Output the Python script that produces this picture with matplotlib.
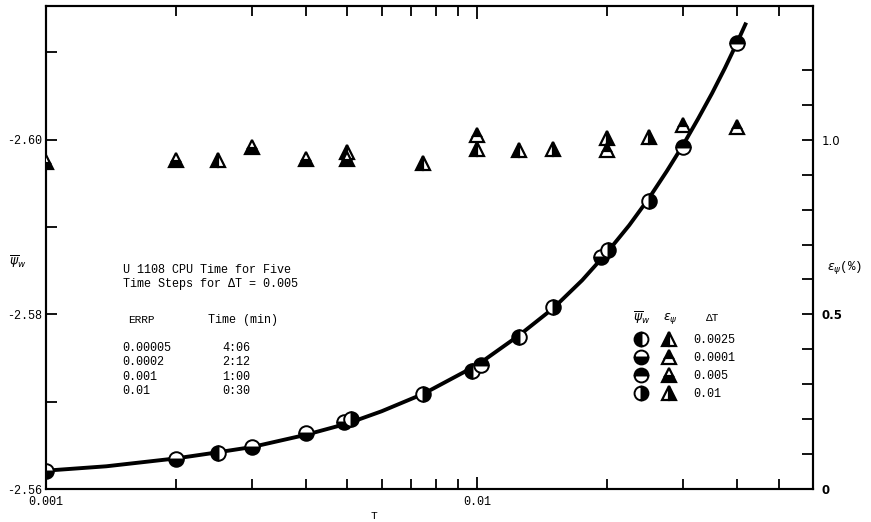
import numpy as np
import matplotlib
matplotlib.use("Agg")
import matplotlib.pyplot as plt
from matplotlib.lines import Line2D
from matplotlib.legend_handler import HandlerTuple
from matplotlib.ticker import FixedLocator, NullFormatter

plt.rcParams['font.family'] = ['Liberation Mono', 'DejaVu Sans']
plt.rcParams['mathtext.fontset'] = 'dejavusans'

# smooth curve through psi_w
curve_T = [0.001, 0.00138, 0.002, 0.0025, 0.003, 0.004, 0.005, 0.006, 0.0075,
           0.01, 0.0125, 0.015, 0.0175, 0.02, 0.0225, 0.025, 0.0275, 0.03,
           0.0325, 0.035, 0.0375, 0.04, 0.042]
curve_psi = [-2.5621, -2.5626, -2.5635, -2.5642, -2.5648, -2.5662, -2.5675, -2.5689, -2.5709,
             -2.5742, -2.5776, -2.5807, -2.5839, -2.5871, -2.5902, -2.5933, -2.5964, -2.5994,
             -2.6024, -2.6053, -2.6082, -2.6111, -2.6134]

# psi_w points (circles, left axis)
psi_T = [0.001, 0.002, 0.0025, 0.003, 0.004, 0.0049, 0.0051, 0.0075, 0.0097,
         0.0102, 0.0125, 0.015, 0.0194, 0.0201, 0.025, 0.03, 0.04]
psi_val = [-2.5621, -2.5634, -2.5641, -2.5648, -2.5664, -2.5677, -2.5680, -2.5709, -2.5735,
           -2.5742, -2.5774, -2.5808, -2.5866, -2.5874, -2.5930, -2.5992, -2.6111]
psi_fill = ['bottom', 'bottom', 'left', 'bottom', 'bottom', 'bottom', 'right', 'right', 'left',
            'top', 'left', 'right', 'bottom', 'right', 'right', 'top', 'top']

# eps_psi points (triangles, right axis, %)
eps_T = [0.001, 0.002, 0.0025, 0.003, 0.004, 0.005, 0.005, 0.0075, 0.01,
         0.01, 0.0125, 0.015, 0.02, 0.02, 0.025, 0.03, 0.04]
eps_val = [0.937, 0.943, 0.943, 0.980, 0.946, 0.966, 0.946, 0.934, 1.014,
           0.974, 0.971, 0.974, 1.006, 0.971, 1.009, 1.043, 1.037]
eps_fill = ['bottom', 'bottom', 'left', 'bottom', 'bottom', 'left', 'bottom', 'left', 'top',
            'left', 'left', 'right', 'right', 'top', 'right', 'top', 'top']

# legend
dt_labels = ['0.0025', '0.0001', '0.005', '0.01']
leg_circle_fill = ['left', 'bottom', 'top', 'right']
leg_tri_fill = ['left', 'top', 'bottom', 'right']

# CPU time table
errp = ['0.00005', '0.0002', '0.001', '0.01']
cpu_time = ['4:06', '2:12', '1:00', '0:30']

W, H = 871, 522
fig = plt.figure(figsize=(W / 100, H / 100), dpi=100)
ax = fig.add_axes([46 / W, 1 - 489 / H, 767 / W, 483 / H])
ax2 = ax.twinx()

ax.set_xscale('log')
ax.set_xlim(0.001, 0.06)
ax.set_ylim(-2.56, -2.6153)
ax2.set_ylim(0, 1.383)

ax.plot(curve_T, curve_psi, color='black', lw=2.8, zorder=2,
        solid_joinstyle='round', solid_capstyle='butt')
for t, v, f in zip(psi_T, psi_val, psi_fill):
    ax.plot(t, v, ls='none', marker='o', ms=10.5, fillstyle=f, mfc='black',
            mfcalt='white', mec='black', mew=1.4, zorder=3)
for t, v, f in zip(eps_T, eps_val, eps_fill):
    ax2.plot(t, v, ls='none', marker='^', ms=10.5, fillstyle=f, mfc='black',
             mfcalt='white', mec='black', mew=1.6, zorder=3)

# ticks
ax.xaxis.set_major_locator(FixedLocator([0.001, 0.01]))
ax.xaxis.set_minor_locator(FixedLocator([k * 0.001 for k in range(2, 10)] +
                                        [k * 0.01 for k in range(2, 6)]))
ax.set_xticklabels(['0.001', '0.01'])
ax.xaxis.set_minor_formatter(NullFormatter())
ax.tick_params(axis='x', which='both', direction='in', top=True, labelsize=8.5,
               width=1.3, pad=5)
ax.tick_params(axis='x', which='major', length=9)
ax.tick_params(axis='x', which='minor', length=7)

ax.yaxis.set_major_locator(FixedLocator([-2.60, -2.58, -2.56]))
ax.yaxis.set_minor_locator(FixedLocator([-2.61, -2.59, -2.57]))
ax.set_yticklabels(['-2.60', '-2.58', '-2.56'])
ax.tick_params(axis='y', which='both', direction='in', length=8, width=1.3,
               labelsize=8.5, pad=3)

ax2.yaxis.set_major_locator(FixedLocator([0, 0.5, 1.0]))
ax2.yaxis.set_minor_locator(FixedLocator([0.1, 0.2, 0.3, 0.4, 0.6, 0.7, 0.8, 0.9, 1.1, 1.2]))
rlabels = ax2.set_yticklabels(['0', '0.5', '1.0'], family='DejaVu Sans', fontsize=8.5)
rlabels[0].set_weight('bold')
rlabels[1].set_weight('bold')
ax2.tick_params(axis='y', which='both', direction='in', length=8, width=1.3, pad=6)

for a in (ax, ax2):
    for s in a.spines.values():
        s.set_linewidth(1.5)

# axis labels
fig.text(18 / W, 1 - 262 / H, r'$\overline{\psi}_w$', ha='center', va='center', fontsize=9)
fig.text(845 / W, 1 - 267 / H, r'$\epsilon_\psi$(%)', ha='center', va='center', fontsize=9)
fig.text(374 / W, 1 - 516 / H, 'T', ha='center', va='center', fontsize=8)

# CPU time note
fig.text(123 / W, 1 - 270 / H, 'U 1108 CPU Time for Five', ha='left', va='center', fontsize=8.5)
fig.text(123 / W, 1 - 284 / H, 'Time Steps for \u0394T = 0.005', ha='left', va='center', fontsize=8.5)
fig.text(128 / W, 1 - 320 / H, 'ERRP', ha='left', va='center', fontsize=8)
fig.text(208 / W, 1 - 320 / H, 'Time (min)', ha='left', va='center', fontsize=8.5)
for i, (e, tm) in enumerate(zip(errp, cpu_time)):
    y = 348 + i * 14.3
    fig.text(122 / W, 1 - y / H, e, ha='left', va='center', fontsize=8.5)
    fig.text(222 / W, 1 - y / H, tm, ha='left', va='center', fontsize=8.5)

# legend
handles = []
for cf, tf in zip(leg_circle_fill, leg_tri_fill):
    c = Line2D([], [], ls='none', marker='o', ms=10, fillstyle=cf, mfc='black',
               mfcalt='white', mec='black', mew=1.4)
    tr = Line2D([], [], ls='none', marker='^', ms=10.5, fillstyle=tf, mfc='black',
                mfcalt='white', mec='black', mew=1.6)
    handles.append((c, tr))
ax2.legend(handles, dt_labels, handler_map={tuple: HandlerTuple(ndivide=None, pad=0.8)},
           loc='upper left', bbox_to_anchor=(632 / W, 1 - 334 / H),
           bbox_transform=fig.transFigure, frameon=False, handlelength=3.9,
           handletextpad=1.25, labelspacing=0.5, fontsize=8.5, borderpad=0,
           borderaxespad=0)
fig.text(642 / W, 1 - 318 / H, r'$\overline{\psi}_w$', ha='center', va='center', fontsize=9)
fig.text(670 / W, 1 - 318 / H, r'$\epsilon_\psi$', ha='center', va='center', fontsize=9)
fig.text(712 / W, 1 - 318 / H, '\u0394T', ha='center', va='center', fontsize=8)

fig.savefig('out.png', dpi=100)
